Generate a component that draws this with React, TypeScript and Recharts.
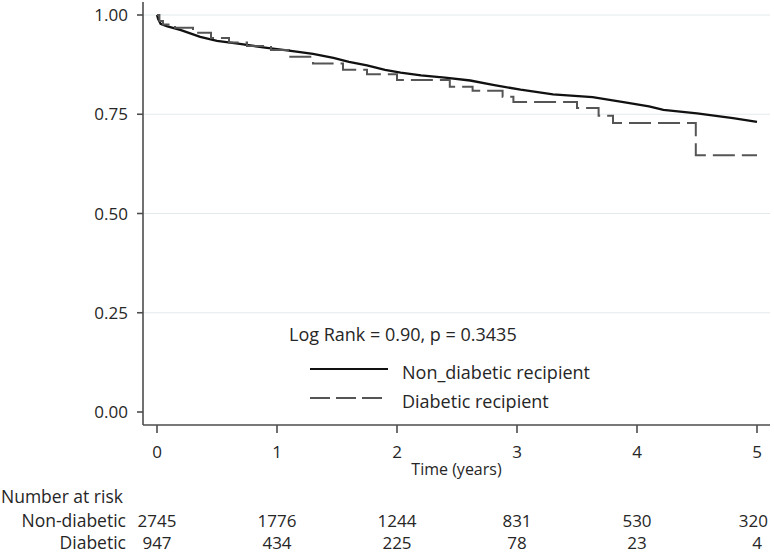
import React from "react"
import { LineChart, Line, XAxis, YAxis, ReferenceLine, Legend } from "recharts"

const years = [0, 1, 2, 3, 4, 5]
const atRiskNonDiabetic = [2745, 1776, 1244, 831, 530, 320]
const atRiskDiabetic = [947, 434, 225, 78, 23, 4]
const yTicks = [0, 0.25, 0.5, 0.75, 1]
const gridValues = [0.25, 0.5, 0.75, 1]

// Kaplan-Meier survival
const nonDiabeticTime = [0, 0.01, 0.03, 0.08, 0.2, 0.36, 0.5, 0.69, 0.9, 1.1, 1.3, 1.47, 1.6, 1.75, 1.9, 2.03, 2.2, 2.4, 2.61, 2.8, 3.03, 3.3, 3.63, 3.9, 4.1, 4.22, 4.5, 4.8, 5.0]
const nonDiabeticSurv = [1.0, 0.99, 0.978, 0.972, 0.962, 0.945, 0.935, 0.927, 0.918, 0.91, 0.902, 0.892, 0.882, 0.873, 0.862, 0.855, 0.848, 0.842, 0.835, 0.824, 0.812, 0.8, 0.793, 0.78, 0.77, 0.761, 0.752, 0.74, 0.731]

const diabeticTime = [0, 0.02, 0.05, 0.15, 0.3, 0.45, 0.6, 0.75, 0.95, 1.1, 1.3, 1.55, 1.75, 2.0, 2.44, 2.63, 2.88, 2.97, 3.5, 3.68, 3.8, 4.49, 5.0]
const diabeticSurv = [1.0, 0.985, 0.976, 0.968, 0.955, 0.942, 0.931, 0.922, 0.912, 0.895, 0.878, 0.862, 0.851, 0.836, 0.819, 0.809, 0.794, 0.781, 0.766, 0.746, 0.728, 0.647, 0.647]

const nonDiabeticData = nonDiabeticTime.map((t, i) => ({ t, s: nonDiabeticSurv[i] }))
const diabeticData = diabeticTime.map((t, i) => ({ t, s: diabeticSurv[i] }))

const font = "'Open Sans', sans-serif"
const textColor = "#262626"
const axisColor = "#4d4d4d"

const series = [
  { name: "Non_diabetic recipient", data: nonDiabeticData, color: "#111111", width: 2.3, dash: undefined as string | undefined, curve: "linear" as const },
  { name: "Diabetic recipient", data: diabeticData, color: "#555555", width: 2, dash: "22 7", curve: "stepAfter" as const },
]

function TimeTick(props: any) {
  const { x, y, payload } = props
  const i = years.indexOf(payload.value)
  const last = i === years.length - 1
  return (
    <g fontFamily={font} fill={textColor}>
      <text x={x} y={y} dy={25} textAnchor="middle" fontSize={17}>{payload.value}</text>
      <text x={last ? x + 11 : x} y={y} dy={94} textAnchor={last ? "end" : "middle"} fontSize={17}>{atRiskNonDiabetic[i]}</text>
      <text x={x} y={y} dy={116} textAnchor="middle" fontSize={17}>{atRiskDiabetic[i]}</text>
    </g>
  )
}

function KmLegend(props: any) {
  const payload: any[] = props.payload || []
  const entries = series.filter((s) => payload.length === 0 || payload.some((p) => p.value === s.name))
  return (
    <div style={{ position: "relative", width: 774, height: 553, fontFamily: font, color: textColor }}>
      <div style={{ position: "absolute", left: 289, top: 322, fontSize: 18, lineHeight: "24px", whiteSpace: "nowrap" }}>
        Log Rank = 0.90, p = 0.3435
      </div>
      {entries.map((s, i) => {
        const cy = 369 + i * 29
        return (
          <React.Fragment key={s.name}>
            <svg style={{ position: "absolute", left: 308, top: cy - 4 }} width={82} height={8}>
              <line x1={2} x2={80} y1={4} y2={4} stroke={s.color} strokeWidth={1.8} strokeDasharray={s.dash ? "20 6" : undefined} />
            </svg>
            <div style={{ position: "absolute", left: 402, top: cy - 9, fontSize: 18, lineHeight: "24px", whiteSpace: "nowrap" }}>
              {s.name}
            </div>
          </React.Fragment>
        )
      })}
    </div>
  )
}

export default function App() {
  return (
    <div style={{ position: "absolute", left: 0, top: 0, width: 774, height: 553, background: "#fff" }}>
      <LineChart width={774} height={553} margin={{ top: 2, right: 4, bottom: 0, left: 83 }}>
        {gridValues.map((v) => (
          <ReferenceLine key={v} y={v} stroke="#e4eaec" strokeWidth={1} ifOverflow="extendDomain" />
        ))}
        <XAxis
          type="number"
          dataKey="t"
          domain={[0, 5]}
          ticks={years}
          allowDuplicatedCategory={false}
          padding={{ left: 14, right: 13 }}
          height={128}
          tickSize={8}
          tickMargin={0}
          stroke={axisColor}
          strokeWidth={1.6}
          tick={<TimeTick />}
          label={{ value: "Time (years)", position: "insideTop", offset: 39, fill: textColor, fontSize: 16, fontFamily: font }}
        />
        <YAxis
          type="number"
          domain={[0, 1]}
          ticks={yTicks}
          width={60}
          padding={{ top: 13, bottom: 13 }}
          tickSize={6}
          tickMargin={9}
          stroke={axisColor}
          strokeWidth={1.6}
          tickFormatter={(v: number) => v.toFixed(2)}
          tick={{ fill: textColor, fontSize: 17, fontFamily: font }}
        />
        <Legend layout="vertical" align="center" verticalAlign="middle" content={<KmLegend />} wrapperStyle={{ left: 0, top: 0, width: 774, height: 553, pointerEvents: "none" }} />
        {series.map((s) => (
          <Line
            key={s.name}
            name={s.name}
            data={s.data}
            dataKey="s"
            type={s.curve}
            stroke={s.color}
            strokeWidth={s.width}
            strokeDasharray={s.dash}
            dot={false}
            activeDot={false}
            isAnimationActive={false}
          />
        ))}
      </LineChart>
      <svg width={140} height={553} style={{ position: "absolute", left: 0, top: 0, pointerEvents: "none" }}>
        <g fontFamily={font} fill={textColor} fontSize={17.5}>
          <text x={1} y={503}>Number at risk</text>
          <text x={126} y={527} textAnchor="end">Non-diabetic</text>
          <text x={126} y={549} textAnchor="end">Diabetic</text>
        </g>
      </svg>
    </div>
  )
}
